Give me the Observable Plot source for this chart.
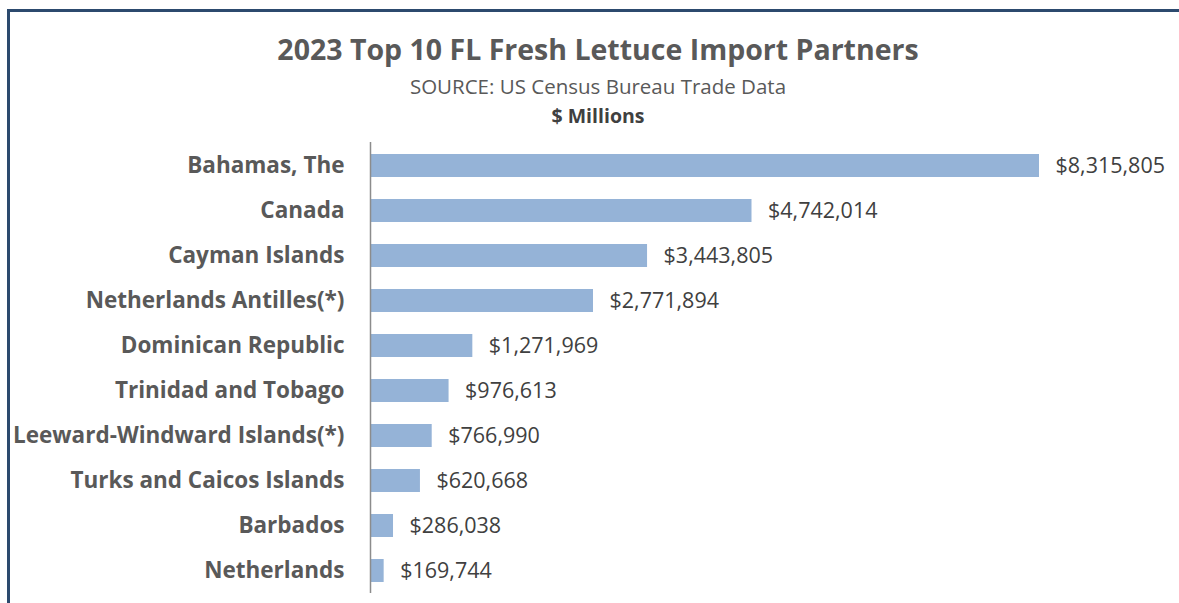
<!DOCTYPE html>
<html>
<head>
<meta charset="utf-8">
<script src="https://cdn.jsdelivr.net/npm/d3@7"></script>
<script src="https://cdn.jsdelivr.net/npm/@observablehq/plot@0.6"></script>
<style>
  html, body { margin: 0; padding: 0; background: #fff; }
  #wrap { position: relative; width: 1179px; height: 603px; overflow: hidden; font-family: "Open Sans", sans-serif; }
  .bl { position: absolute; left: 7px; top: 9px; width: 3px; height: 600px; background: #2c4a6e; }
  .bt { position: absolute; left: 7px; top: 9px; width: 1180px; height: 3px; background: #2c4a6e; }
  .t { position: absolute; left: 0; width: 1196px; text-align: center; color: #595959; white-space: nowrap; line-height: 1; }
  #title { top: 35px; font-size: 28.5px; font-weight: bold; }
  #sub { top: 76px; font-size: 20.5px; }
  #unit { top: 106px; font-size: 19.5px; font-weight: bold; color: #404040; }
  #chart { position: absolute; left: 0; top: 0; }
</style>
</head>
<body>
<div id="wrap">
  <div class="bl"></div>
  <div class="bt"></div>
  <div id="chart"></div>
  <div class="t" id="title">2023 Top 10 FL Fresh Lettuce Import Partners</div>
  <div class="t" id="sub">SOURCE: US Census Bureau Trade Data</div>
  <div class="t" id="unit">$ Millions</div>
</div>
<script>
const countries = [
  "Bahamas, The",
  "Canada",
  "Cayman Islands",
  "Netherlands Antilles(*)",
  "Dominican Republic",
  "Trinidad and Tobago",
  "Leeward-Windward Islands(*)",
  "Turks and Caicos Islands",
  "Barbados",
  "Netherlands"
];
const values = [8315805, 4742014, 3443805, 2771894, 1271969, 976613, 766990, 620668, 286038, 169744];

const data = countries.map((c, i) => ({country: c, value: values[i]}));
const fmt = v => "$" + d3.format(",")(v);

const chart = Plot.plot({
  width: 1179,
  height: 603,
  marginLeft: 370,
  marginRight: 140,
  marginTop: 142,
  marginBottom: 10,
  style: {fontFamily: "'Open Sans', sans-serif", background: "transparent"},
  x: {domain: [0, 8315805], axis: null},
  y: {domain: countries, paddingInner: 0.5, paddingOuter: 0.25, label: null},
  marks: [
    Plot.barX(data, {x: "value", y: "country", fill: "#95b3d7"}),
    Plot.ruleX([0], {stroke: "#8c8c8c", strokeWidth: 1.5}),
    Plot.text(data, {x: "value", y: "country", text: d => fmt(d.value), textAnchor: "start", dx: 16, fontSize: 21.5, fill: "#404040"}),
    Plot.axisY({tickSize: 0, tickPadding: 26, fontSize: 22.5, fontWeight: "bold", fill: "#595959", label: null})
  ]
});
document.getElementById("chart").appendChild(chart);
</script>
</body>
</html>
